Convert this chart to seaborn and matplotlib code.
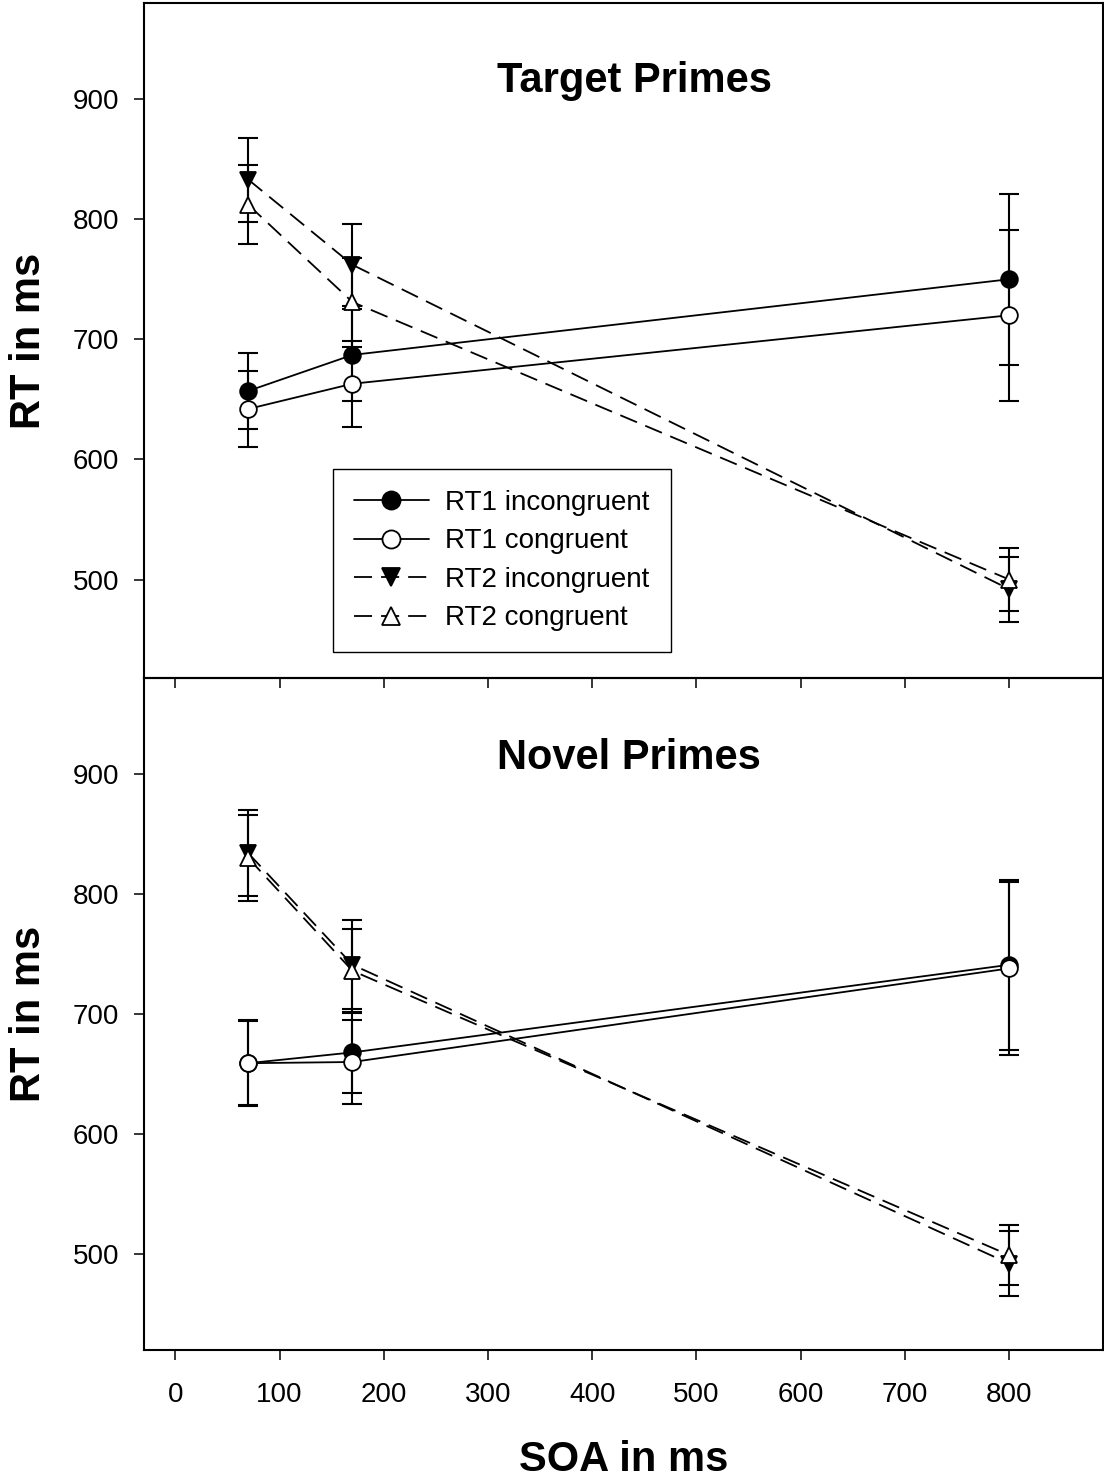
import numpy as np
import pandas as pd
import seaborn as sns
import matplotlib
matplotlib.use("Agg")
import matplotlib.pyplot as plt
from matplotlib.lines import Line2D

# SOA levels (ms)
SOA = [70, 170, 800]

# Target primes panel: mean RT and error
TARGET_RT1_INC = [657, 687, 750]
TARGET_RT1_INC_ERR = [32, 38, 71]
TARGET_RT1_CON = [642, 663, 720]
TARGET_RT1_CON_ERR = [32, 36, 71]
TARGET_RT2_INC = [833, 762, 492]
TARGET_RT2_INC_ERR = [35, 34, 27]
TARGET_RT2_CON = [812, 731, 500]
TARGET_RT2_CON_ERR = [33, 37, 26]

# Novel primes panel
NOVEL_RT1_INC = [659, 668, 741]
NOVEL_RT1_INC_ERR = [35, 34, 71]
NOVEL_RT1_CON = [659, 660, 738]
NOVEL_RT1_CON_ERR = [36, 35, 72]
NOVEL_RT2_INC = [834, 741, 492]
NOVEL_RT2_INC_ERR = [36, 37, 27]
NOVEL_RT2_CON = [830, 736, 499]
NOVEL_RT2_CON_ERR = [36, 35, 25]

SERIES_NAMES = ["RT1 incongruent", "RT1 congruent", "RT2 incongruent", "RT2 congruent"]
X_TICKS = [0, 100, 200, 300, 400, 500, 600, 700, 800]
Y_TICKS = [500, 600, 700, 800, 900]

# style per series: marker, face colour, line style
STYLES = {
    "RT1 incongruent": ("o", "black", "-"),
    "RT1 congruent": ("o", "white", "-"),
    "RT2 incongruent": ("v", "black", (0, (10, 5))),
    "RT2 congruent": ("^", "white", (0, (10, 5))),
}

sns.set_style("ticks")
plt.rcParams["font.family"] = ["Liberation Sans", "DejaVu Sans"]
plt.rcParams["text.color"] = "black"
plt.rcParams["axes.labelcolor"] = "black"
plt.rcParams["xtick.color"] = "black"
plt.rcParams["ytick.color"] = "black"


def draw_panel(ax, means, errs, title, title_y):
    for name, m, e in zip(SERIES_NAMES, means, errs):
        marker, face, ls = STYLES[name]
        ax.errorbar(SOA, m, yerr=e, fmt="none", ecolor="black",
                    elinewidth=1.5, capsize=7, capthick=1.5, zorder=2)
        df = pd.DataFrame({"SOA": SOA, "RT": m})
        sns.lineplot(data=df, x="SOA", y="RT", ax=ax, color="black",
                     linestyle=ls, linewidth=1.3, marker=marker, markersize=12,
                     markerfacecolor=face, markeredgecolor="black",
                     markeredgewidth=1.3, sort=False, zorder=3)
    ax.set_xlim(-30, 890)
    ax.set_xticks(X_TICKS)
    ax.set_yticks(Y_TICKS)
    ax.tick_params(direction="out", length=7, width=1.1, labelsize=20,
                   pad=11, colors="black")
    ax.tick_params(axis="x", pad=16)
    for sp in ax.spines.values():
        sp.set_linewidth(1.5)
        sp.set_color("black")
    ax.text(0.368, title_y, title, transform=ax.transAxes, ha="left",
            va="baseline", fontsize=30, fontweight="bold", color="black")
    ax.set_ylabel("RT in ms", fontsize=30, fontweight="bold", va="baseline",
                  color="black")
    ax.yaxis.set_label_coords(-0.1084, 0.5)


fig = plt.figure(figsize=(11.04, 14.82), dpi=100)
left = 144 / 1104
width = (1103 - 144) / 1104
ax_top = fig.add_axes([left, 1 - 678 / 1482, width, 675 / 1482])
ax_bot = fig.add_axes([left, 1 - 1350 / 1482, width, 672 / 1482])
# keep the top panel's lower ticks visible across the shared border
ax_bot.patch.set_alpha(0)

draw_panel(ax_top,
           [TARGET_RT1_INC, TARGET_RT1_CON, TARGET_RT2_INC, TARGET_RT2_CON],
           [TARGET_RT1_INC_ERR, TARGET_RT1_CON_ERR, TARGET_RT2_INC_ERR, TARGET_RT2_CON_ERR],
           "Target Primes", 0.8686)
draw_panel(ax_bot,
           [NOVEL_RT1_INC, NOVEL_RT1_CON, NOVEL_RT2_INC, NOVEL_RT2_CON],
           [NOVEL_RT1_INC_ERR, NOVEL_RT1_CON_ERR, NOVEL_RT2_INC_ERR, NOVEL_RT2_CON_ERR],
           "Novel Primes", 0.8641)

ax_top.set_ylim(418, 980)
ax_bot.set_ylim(420, 980)
ax_top.set_xlabel("")
ax_top.tick_params(axis="x", labelbottom=False)

ax_bot.set_xlabel("SOA in ms", fontsize=30, fontweight="bold", va="baseline",
                  color="black")
ax_bot.xaxis.set_label_coords(0.5, -0.18)

# legend in the top panel
handles = []
for name in SERIES_NAMES:
    marker, face, ls = STYLES[name]
    handles.append(Line2D([], [], color="black", linestyle=ls, linewidth=1.3,
                          marker=marker, markersize=13, markerfacecolor=face,
                          markeredgecolor="black", markeredgewidth=1.3))
leg = ax_top.legend(handles, SERIES_NAMES, loc="upper left",
                    bbox_to_anchor=(0.197, 0.3096), fontsize=20, frameon=True,
                    fancybox=False, edgecolor="black", framealpha=1,
                    handlelength=2.7, handletextpad=0.6, borderpad=0.75,
                    labelspacing=0.45, borderaxespad=0)
leg.get_frame().set_linewidth(1.0)
for t in leg.get_texts():
    t.set_color("black")

fig.savefig("out.png", dpi=100)
